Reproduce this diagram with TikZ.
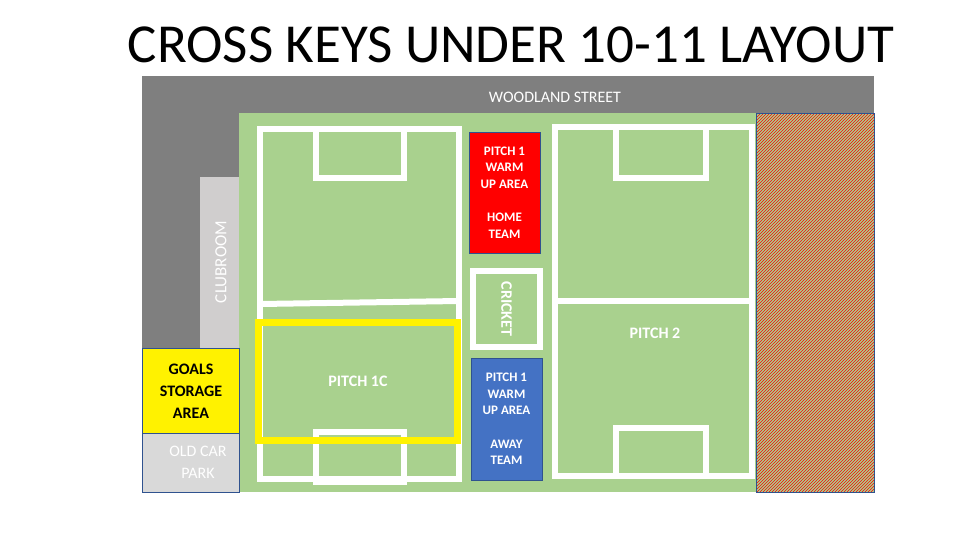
\documentclass[tikz,border=0pt]{standalone}
\usepackage{fontspec}
\setmainfont{Carlito}
\usetikzlibrary{patterns}
\definecolor{road}{HTML}{7F7F7F}
\definecolor{grass}{HTML}{A9D18E}
\definecolor{club}{HTML}{D0CECE}
\definecolor{home}{HTML}{FF0000}
\definecolor{away}{HTML}{4472C4}
\definecolor{edge}{HTML}{2F528F}
\tikzset{
  lines/.style={draw=white, line width=6pt},
  label/.style={text=white, font=\bfseries\fontsize{13}{16.5}\selectfont, align=center},
  warm/.style={minimum width=71pt, inner sep=0pt, draw=edge, line width=0.4pt},
}
\begin{document}
\begin{tikzpicture}[x=1pt, y=-1pt]
    \useasboundingbox (0,0) rectangle (967,538);

    \node (title) at (511,45) {\fontsize{55}{60}\selectfont CROSS KEYS UNDER 10-11 LAYOUT};

    % road and buildings
    \fill[road] (142,76) rectangle (874,113);
    \fill[road] (142,113) rectangle (239,348);
    \node[text=white, font=\fontsize{16}{18}\selectfont] (street) at (555,97) {WOODLAND STREET};
    \fill[grass] (239,113) rectangle (756,492);
    \fill[club] (200,177) rectangle (239,348);
    \node[rotate=90, text=white, font=\fontsize{17}{19}\selectfont] (clubroom) at (221,262) {CLUBROOM};
    \draw[edge, fill=yellow] (142,348) rectangle (239,433);
    \node[font=\bfseries\fontsize{16}{22}\selectfont, align=center] (goals) at (191,391) {GOALS\\STORAGE\\AREA};
    \draw[edge, fill={rgb,255:red,217;green,217;blue,217}] (142,433) rectangle (239,492);
    \node[text=white, font=\fontsize{16}{22}\selectfont, align=center] (carpark) at (198,462) {OLD CAR\\PARK};

    % hatched area
    \fill[grass] (756,113) rectangle (874,492);
    \draw[edge, pattern=north east lines, pattern color=red] (756,113) rectangle (874,492);

    % pitch 1
    \draw[lines] (260,129) rectangle (459,479);
    \draw[lines] (260,304) -- (459,301);
    \draw[lines] (316,129) -- (316,178) -- (404,178) -- (404,129);
    \draw[lines] (316,479) -- (316,432) -- (404,432) -- (404,482) -- (316,482) -- cycle;
    \draw[yellow, line width=7pt] (258,322) rectangle (457,440);
    \node[label, font=\bfseries\fontsize{16}{18}\selectfont] (p1c) at (358,381) {PITCH 1C};

    % pitch 2
    \draw[lines] (555,127) rectangle (752,476);
    \draw[lines] (555,301) -- (752,301);
    \draw[lines] (616,127) -- (616,178) -- (706,178) -- (706,127);
    \draw[lines] (616,476) -- (616,428) -- (706,428) -- (706,476);
    \node[label, font=\bfseries\fontsize{16}{18}\selectfont] (p2) at (655,333) {PITCH 2};

    % middle strip
    \node[warm, fill=home, minimum height=121pt, label] (homearea) at (504.5,192.5)
        {PITCH 1\\WARM\\UP AREA\\[17pt]HOME\\TEAM};
    \draw[lines] (473,271) rectangle (540,347);
    \node[rotate=-90, label, font=\bfseries\fontsize{16}{18}\selectfont] (cricket) at (506.5,309) {CRICKET};
    \node[warm, fill=away, minimum height=122pt, label] (awayarea) at (506.5,419)
        {PITCH 1\\WARM\\UP AREA\\[17pt]AWAY\\TEAM};
\end{tikzpicture}
\end{document}
